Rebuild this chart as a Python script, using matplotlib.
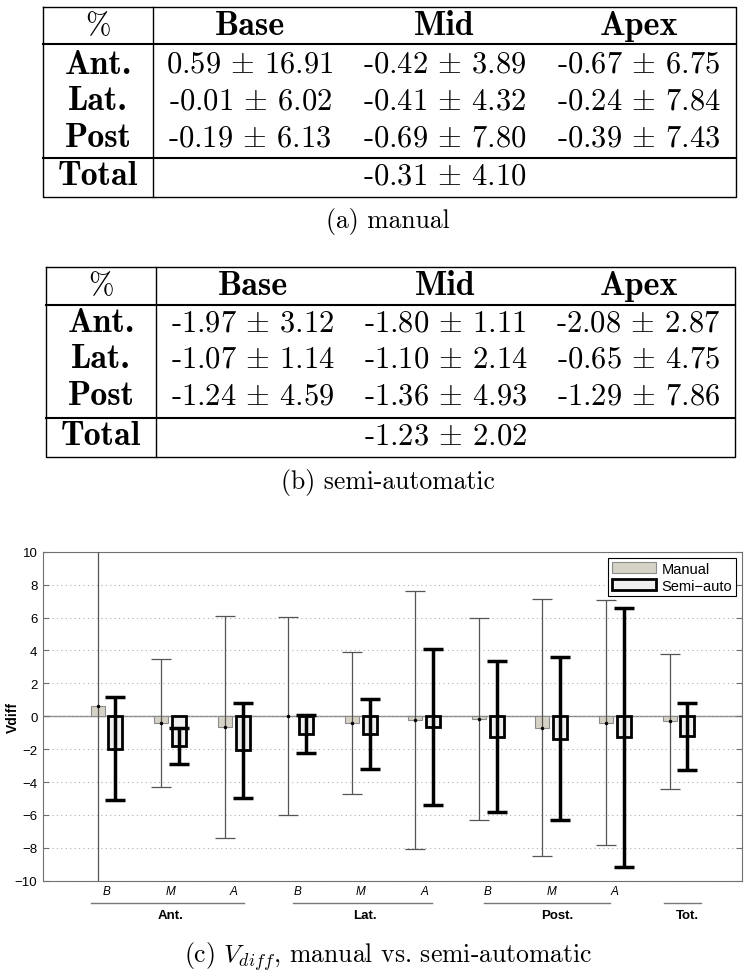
import numpy as np
import matplotlib
matplotlib.use('Agg')
import matplotlib.pyplot as plt

plt.rcParams['mathtext.fontset'] = 'cm'
plt.rcParams['font.family'] = ['Liberation Sans', 'DejaVu Sans']

# Данні таблиць і графіка
regions = ['Ant.', 'Lat.', 'Post']
levels = ['Base', 'Mid', 'Apex']
group_names = ['Ant.', 'Lat.', 'Post.', 'Tot.']
bar_labels = ['B', 'M', 'A', 'B', 'M', 'A', 'B', 'M', 'A', '']

manual_mean = [0.59, -0.42, -0.67, -0.01, -0.41, -0.24, -0.19, -0.69, -0.39, -0.31]
manual_std = [16.91, 3.89, 6.75, 6.02, 4.32, 7.84, 6.13, 7.80, 7.43, 4.10]
semi_mean = [-1.97, -1.80, -2.08, -1.07, -1.10, -0.65, -1.24, -1.36, -1.29, -1.23]
semi_std = [3.12, 1.11, 2.87, 1.14, 2.14, 4.75, 4.59, 4.93, 7.86, 2.02]

W, H = 751, 978
fig = plt.figure(figsize=(W / 100, H / 100), dpi=100)

# Фонова вісь у пікселях для таблиць і підписів
bg = fig.add_axes([0, 0, 1, 1])
bg.set_xlim(0, W)
bg.set_ylim(H, 0)
bg.axis('off')

TXT = 22
BOLD = 24.5
CAP = 18.5


def draw_table(means, stds, left, right, vline, top, hline1, hline2, bottom, row_y, caption, cap_y):
    bg.plot([left, right, right, left, left], [top, top, bottom, bottom, top], color='black', lw=1.0)
    bg.plot([vline, vline], [top, bottom], color='black', lw=1.0)
    bg.plot([left, right], [hline1, hline1], color='black', lw=1.5)
    bg.plot([left, right], [hline2, hline2], color='black', lw=1.5)
    lab_x = (left + vline) / 2
    col_x = [vline + (right - vline) * (c + 0.5) / 3 for c in range(3)]
    bg.text(lab_x, row_y[0], '%', family='cmr10', fontsize=TXT, ha='center', va='center')
    for c, name in enumerate(levels):
        bg.text(col_x[c], row_y[0], name, family='cmb10', fontsize=BOLD, ha='center', va='center')
    for r, name in enumerate(regions):
        bg.text(lab_x, row_y[r + 1], name, family='cmb10', fontsize=BOLD, ha='center', va='center')
        for c in range(3):
            i = r * 3 + c
            bg.text(col_x[c], row_y[r + 1], f'{means[i]:.2f} $\\pm$ {stds[i]:.2f}',
                    family='cmr10', fontsize=TXT, ha='center', va='center')
    bg.text(lab_x, row_y[4], 'Total', family='cmb10', fontsize=BOLD, ha='center', va='center')
    bg.text(col_x[1], row_y[4], f'{means[9]:.2f} $\\pm$ {stds[9]:.2f}',
            family='cmr10', fontsize=TXT, ha='center', va='center')
    bg.text(388, cap_y, caption, family='cmr10', fontsize=CAP, ha='center', va='center')


draw_table(manual_mean, manual_std, 43, 736, 153, 7.5, 45, 159.3, 197.7,
           [26.7, 65, 101.7, 138.3, 176.7], '(a) manual', 221.7)
draw_table(semi_mean, semi_std, 45.7, 735, 156.3, 268.3, 306, 419.3, 457.7,
           [286.7, 323.3, 360, 396.7, 436.7], '(b) semi-automatic', 483)
bg.text(388, 956.7, '(c) $V_{diff}$, manual vs. semi-automatic', family='cmr10',
        fontsize=CAP, ha='center', va='center')

# Графік
ax = fig.add_axes([43 / W, (H - 881.7) / H, 699 / W, 329 / H])
x = np.arange(1, 11)
off = 0.14
bw = 0.22
ax.bar(x - off, manual_mean, bw, color='#d6d2c6', edgecolor='#8c8c8c', lw=0.8, zorder=2, label='Manual')
ax.bar(x + off, semi_mean, bw, color='#f0f0f0', edgecolor='black', lw=2, zorder=2, label='Semi\u2212auto')
ax.errorbar(x - off, manual_mean, yerr=manual_std, fmt='.', ms=3, color='black', ecolor='#555555',
            elinewidth=0.9, capsize=7, capthick=0.9, zorder=3)
ax.errorbar(x + off, semi_mean, yerr=semi_std, fmt='none', ecolor='black',
            elinewidth=2.5, capsize=7, capthick=2.5, zorder=3)
ax.axhline(0, color='#888888', lw=1, zorder=1.5)

ax.set_xlim(0, 11)
ax.set_ylim(-10, 10)
ax.set_yticks(np.arange(-10, 11, 2))
ax.grid(axis='y', ls=(0, (1, 3)), color='#b0b0b0', lw=0.8, zorder=0)
for s in ax.spines.values():
    s.set_color('#707070')
ax.tick_params(axis='y', direction='in', length=4, right=True, color='#707070', labelsize=9.5, pad=4)
ax.set_xticks(x, bar_labels, fontstyle='italic', fontsize=8.5)
ax.tick_params(axis='x', length=0, pad=3)
ax.set_ylabel('Vdiff', fontweight='bold', fontsize=10, va='center')
ax.yaxis.set_label_coords(-0.043, 0.5)

spans = [(0.75, 3.17), (3.93, 6.12), (6.94, 8.93), (9.78, 10.35)]
label_x = [2.01, 5.06, 8.09, 10.14]
tr = ax.get_xaxis_transform()
for (a, b), lx, name in zip(spans, label_x, group_names):
    ax.plot([a, b], [-0.068, -0.068], color='#777777', lw=1, transform=tr, clip_on=False)
    ax.text(lx, -0.104, name, transform=tr, ha='center', va='center', fontsize=9.5, fontweight='bold')

leg = ax.legend(loc='upper right', bbox_to_anchor=(0.991, 0.981), fontsize=10.5, handlelength=3.0,
                handleheight=0.85, fancybox=False, edgecolor='black', framealpha=1, borderpad=0.25,
                labelspacing=0.2, handletextpad=0.4, borderaxespad=0)
leg.get_frame().set_linewidth(0.8)

fig.savefig('out.png', dpi=100)
